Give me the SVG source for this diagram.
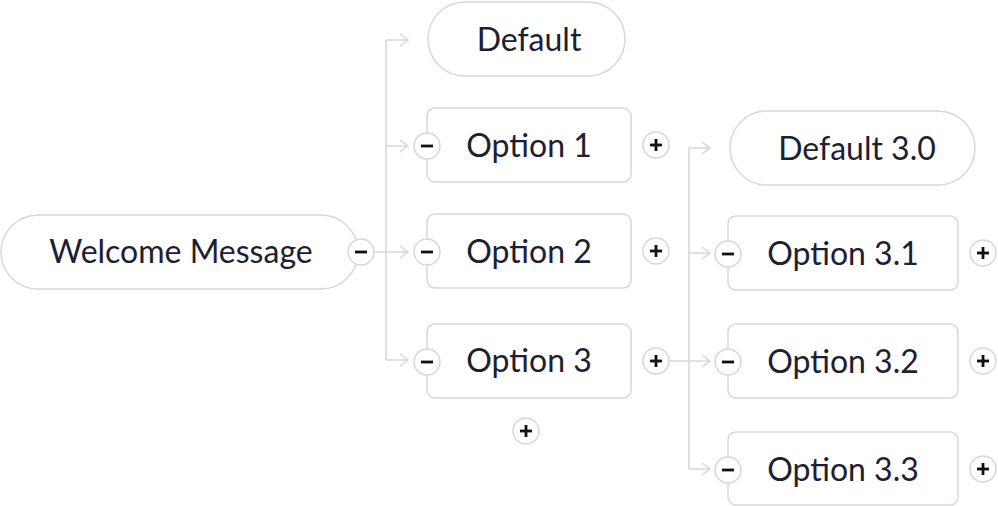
<svg xmlns="http://www.w3.org/2000/svg" width="998" height="506" viewBox="0 0 998 506">
<defs>
<style>
.box{fill:#fff;stroke:#d5d7dd;stroke-width:1.5}
.lbl{font-family:Lato,"Noto Sans",sans-serif;font-size:32px;fill:#1b2033;text-anchor:middle;dominant-baseline:central}
.con{fill:none;stroke:#d5d7dd;stroke-width:1.5}
.btn{fill:#fff;stroke:#d5d7dd;stroke-width:1.5}
.sign{stroke:#111;stroke-width:2.8;stroke-linecap:butt}
</style>
<marker id="arr" viewBox="0 0 10 14" markerWidth="10" markerHeight="14" refX="9" refY="7" markerUnits="userSpaceOnUse" orient="auto">
<path d="M1,1 L9,7 L1,13" fill="none" stroke="#d5d7dd" stroke-width="1.5"/>
</marker>
<g id="minus"><circle r="13" class="btn"/><line x1="-6" y1="0" x2="6" y2="0" class="sign"/></g>
<g id="plus"><circle r="13" class="btn"/><line x1="-6" y1="0" x2="6" y2="0" class="sign"/><line x1="0" y1="-6" x2="0" y2="6" class="sign"/></g>
</defs>
<rect width="998" height="506" fill="#fff"/>
<g id="connectors">
<path class="con" d="M386,40 V360"/>
<path class="con" d="M374,252 H408" marker-end="url(#arr)"/>
<path class="con" d="M386,40 H408" marker-end="url(#arr)"/>
<path class="con" d="M386,146 H408" marker-end="url(#arr)"/>
<path class="con" d="M386,360 H408" marker-end="url(#arr)"/>
<path class="con" d="M689,148 V469"/>
<path class="con" d="M669,361 H710" marker-end="url(#arr)"/>
<path class="con" d="M689,148 H710" marker-end="url(#arr)"/>
<path class="con" d="M689,253 H710" marker-end="url(#arr)"/>
<path class="con" d="M689,469 H710" marker-end="url(#arr)"/>
</g>
<g id="welcome">
<rect class="box" x="1" y="215" width="357" height="74" rx="37"/>
<text class="lbl" x="181" y="250">Welcome Message</text>
<use href="#minus" x="361" y="252"/>
</g>
<g id="default">
<rect class="box" x="428" y="2" width="197" height="74" rx="37"/>
<text class="lbl" x="529" y="38">Default</text>
</g>
<g id="option1">
<rect class="box" x="427" y="108" width="204" height="74" rx="8"/>
<text class="lbl" x="529" y="144">Option 1</text>
<use href="#minus" x="427" y="146"/>
<use href="#plus" x="656" y="145"/>
</g>
<g id="option2">
<rect class="box" x="427" y="214" width="204" height="74" rx="8"/>
<text class="lbl" x="529" y="250">Option 2</text>
<use href="#minus" x="427" y="252"/>
<use href="#plus" x="656" y="251"/>
</g>
<g id="option3">
<rect class="box" x="427" y="324" width="204" height="74" rx="8"/>
<text class="lbl" x="529" y="359">Option 3</text>
<use href="#minus" x="427" y="362"/>
<use href="#plus" x="656" y="361"/>
<use href="#plus" x="526" y="431"/>
</g>
<g id="default30">
<rect class="box" x="730" y="111" width="245" height="74" rx="37"/>
<text class="lbl" x="857" y="147">Default 3.0</text>
</g>
<g id="option31">
<rect class="box" x="728" y="216" width="230" height="74" rx="8"/>
<text class="lbl" x="843" y="252">Option 3.1</text>
<use href="#minus" x="728" y="254"/>
<use href="#plus" x="983" y="253"/>
</g>
<g id="option32">
<rect class="box" x="728" y="324" width="230" height="74" rx="8"/>
<text class="lbl" x="843" y="360">Option 3.2</text>
<use href="#minus" x="728" y="362"/>
<use href="#plus" x="983" y="361"/>
</g>
<g id="option33">
<rect class="box" x="728" y="432" width="230" height="73" rx="8"/>
<text class="lbl" x="843" y="468">Option 3.3</text>
<use href="#minus" x="728" y="470"/>
<use href="#plus" x="983" y="469"/>
</g>
</svg>
